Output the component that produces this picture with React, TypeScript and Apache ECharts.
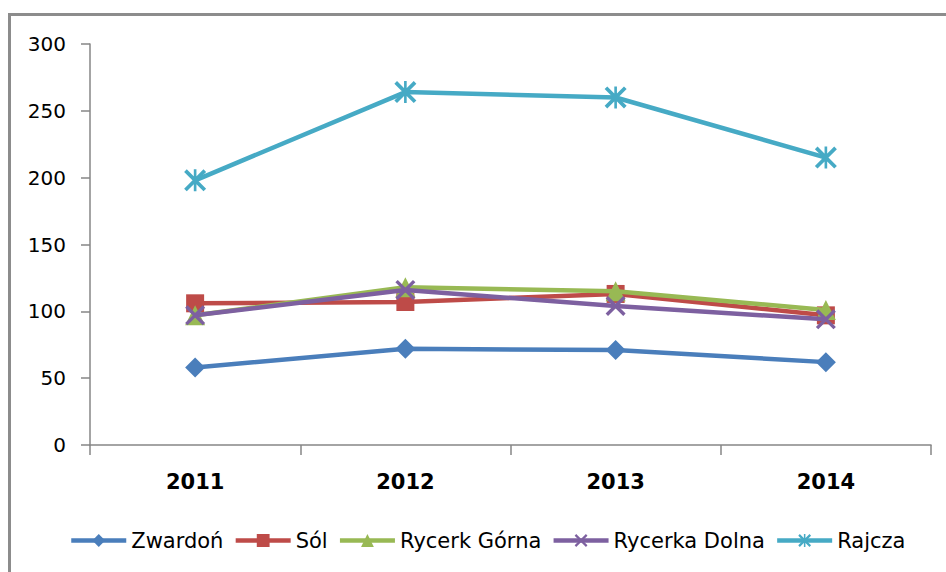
import React, { useEffect, useRef } from "react";
import * as echarts from "echarts";

const categories = ["2011", "2012", "2013", "2014"];
const yTicks = { min: 0, max: 300, interval: 50 };

const zwardon = [58, 72, 71, 62];
const sol = [106, 107, 113, 97];
const rycerkGorna = [97, 118, 115, 101];
const rycerkaDolna = [97, 116, 104, 94];
const rajcza = [198, 264, 260, 215];

const seriesNames = ["Zwardoń", "Sól", "Rycerk Górna", "Rycerka Dolna", "Rajcza"];
const seriesData = [zwardon, sol, rycerkGorna, rycerkaDolna, rajcza];
const colors = ["#4a7ebb", "#be4b48", "#98b954", "#7d60a0", "#46aac5"];

const xPath = "path://M0,1.2L1.2,0L10,8.8L8.8,10Z M8.8,0L10,1.2L1.2,10L0,8.8Z";
const starPath =
  "path://M0,1.2L1.2,0L10,8.8L8.8,10Z M8.8,0L10,1.2L1.2,10L0,8.8Z M4.4,0L5.6,0L5.6,10L4.4,10Z";
const symbols = ["diamond", "rect", "triangle", xPath, starPath];
const symbolSizes = [20, 18, 20, 20, 22];

const FONT = "DejaVu Sans";

export default function App() {
  const ref = useRef<HTMLDivElement>(null);
  useEffect(() => {
    document.body.style.margin = "0";
    const chart = echarts.init(ref.current!, undefined, { renderer: "svg" });
    chart.setOption({
      animation: false,
      backgroundColor: "#ffffff",
      textStyle: { fontFamily: FONT },
      graphic: [
        { type: "line", shape: { x1: 8, y1: 14.5, x2: 946, y2: 14.5 }, style: { stroke: "#8c8c8c", lineWidth: 3 } },
        { type: "line", shape: { x1: 9.5, y1: 13, x2: 9.5, y2: 572 }, style: { stroke: "#8c8c8c", lineWidth: 3 } },
      ],
      grid: { left: 90, right: 15, top: 44, bottom: 127, containLabel: false },
      legend: {
        bottom: 16,
        left: 64,
        itemWidth: 55,
        itemHeight: 16,
        itemGap: 10,
        lineStyle: { width: 4.5 },
        textStyle: { fontFamily: FONT, fontSize: 21, color: "#000" },
        data: seriesNames,
      },
      xAxis: {
        type: "category",
        data: categories,
        boundaryGap: true,
        axisLine: { lineStyle: { color: "#868686", width: 1.5 } },
        axisTick: { show: true, length: 10, lineStyle: { color: "#868686", width: 1.5 } },
        axisLabel: { fontFamily: FONT, fontSize: 21, fontWeight: "bold", color: "#000", margin: 26 },
      },
      yAxis: {
        type: "value",
        min: yTicks.min,
        max: yTicks.max,
        interval: yTicks.interval,
        axisLine: { show: true, lineStyle: { color: "#868686", width: 1.5 } },
        axisTick: { show: true, length: 9, lineStyle: { color: "#868686", width: 1.5 } },
        splitLine: { show: false },
        axisLabel: { fontFamily: FONT, fontSize: 20, color: "#000", margin: 24 },
      },
      series: seriesNames.map((name, i) => ({
        name,
        type: "line",
        data: seriesData[i],
        symbol: symbols[i],
        symbolSize: symbolSizes[i],
        showAllSymbol: true,
        lineStyle: { color: colors[i], width: 4.5 },
        itemStyle: { color: colors[i] },
        z: 2 + i,
      })),
    });
    return () => chart.dispose();
  }, []);
  return <div ref={ref} style={{ width: 946, height: 572 }} />;
}
